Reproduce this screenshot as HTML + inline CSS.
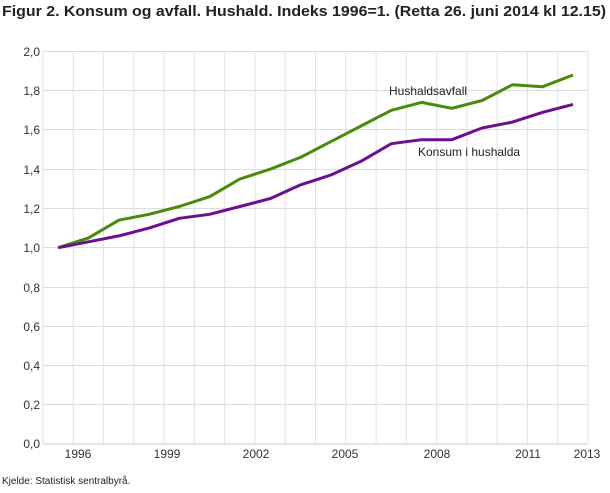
<!DOCTYPE html>
<html><head><meta charset="utf-8"><style>
body{margin:0;background:#fff;width:610px;height:488px;overflow:hidden;font-family:"Liberation Sans",sans-serif;}
</style></head><body>
<svg width="610" height="488" xmlns="http://www.w3.org/2000/svg" font-family="Liberation Sans, sans-serif">
<text x="2" y="16" font-size="15" font-weight="bold" fill="#222" textLength="604" lengthAdjust="spacingAndGlyphs">Figur 2. Konsum og avfall. Hushald. Indeks 1996=1. (Retta 26. juni 2014 kl 12.15)</text>
<g stroke="#dcdcdc" stroke-width="1">
<line x1="43" y1="51.5" x2="588" y2="51.5"/><line x1="43" y1="90.5" x2="588" y2="90.5"/>
<line x1="43" y1="129.5" x2="588" y2="129.5"/><line x1="43" y1="169.5" x2="588" y2="169.5"/>
<line x1="43" y1="208.5" x2="588" y2="208.5"/><line x1="43" y1="247.5" x2="588" y2="247.5"/>
<line x1="43" y1="287.5" x2="588" y2="287.5"/><line x1="43" y1="326.5" x2="588" y2="326.5"/>
<line x1="43" y1="365.5" x2="588" y2="365.5"/><line x1="43" y1="404.5" x2="588" y2="404.5"/>
</g>
<g stroke="#e2e2e2" stroke-width="1" id="v"></g>
<line x1="43" y1="444" x2="588" y2="444" stroke="#ccc"/>
<g font-size="12" fill="#333" text-anchor="end">
<text x="40" y="56">2,0</text><text x="40" y="95">1,8</text><text x="40" y="134">1,6</text>
<text x="40" y="174">1,4</text><text x="40" y="213">1,2</text><text x="40" y="252">1,0</text>
<text x="40" y="292">0,8</text><text x="40" y="331">0,6</text><text x="40" y="370">0,4</text>
<text x="40" y="409">0,2</text><text x="40" y="448">0,0</text>
</g>
<g font-size="12" fill="#333" text-anchor="middle">
<text x="78" y="458">1996</text><text x="167" y="458">1999</text><text x="256" y="458">2002</text>
<text x="345" y="458">2005</text><text x="437" y="458">2008</text><text x="528" y="458">2011</text>
<text x="587" y="458">2013</text>
</g>
<text x="2" y="484" font-size="10" fill="#222">Kjelde: Statistisk sentralbyrå.</text>
<polyline id="g" fill="none" stroke="#4a8a0a" stroke-width="3" stroke-linejoin="round"/>
<polyline id="p" fill="none" stroke="#6a0f8e" stroke-width="3" stroke-linejoin="round"/>
<text x="389" y="95" font-size="12" fill="#222">Hushaldsavfall</text>
<text x="418" y="156" font-size="12" fill="#222">Konsum i hushalda</text>
</svg>
<script>
var v=document.getElementById('v');
for(var k=0;k<=18;k++){var x=43+k*30.28;var l=document.createElementNS('http://www.w3.org/2000/svg','line');
l.setAttribute('x1',x);l.setAttribute('x2',x);l.setAttribute('y1',51);l.setAttribute('y2',444);v.appendChild(l);}
var G=[1,1.05,1.14,1.17,1.21,1.26,1.35,1.40,1.46,1.54,1.62,1.70,1.74,1.71,1.75,1.83,1.82,1.88];
var P=[1,1.03,1.06,1.10,1.15,1.17,1.21,1.25,1.32,1.37,1.44,1.53,1.55,1.55,1.61,1.64,1.69,1.73];
function pts(a){return a.map(function(y,i){return (58.2+30.28*i).toFixed(1)+','+(444-196.3*y).toFixed(1)}).join(' ');}
document.getElementById('g').setAttribute('points',pts(G));
document.getElementById('p').setAttribute('points',pts(P));
</script>
</body></html>
